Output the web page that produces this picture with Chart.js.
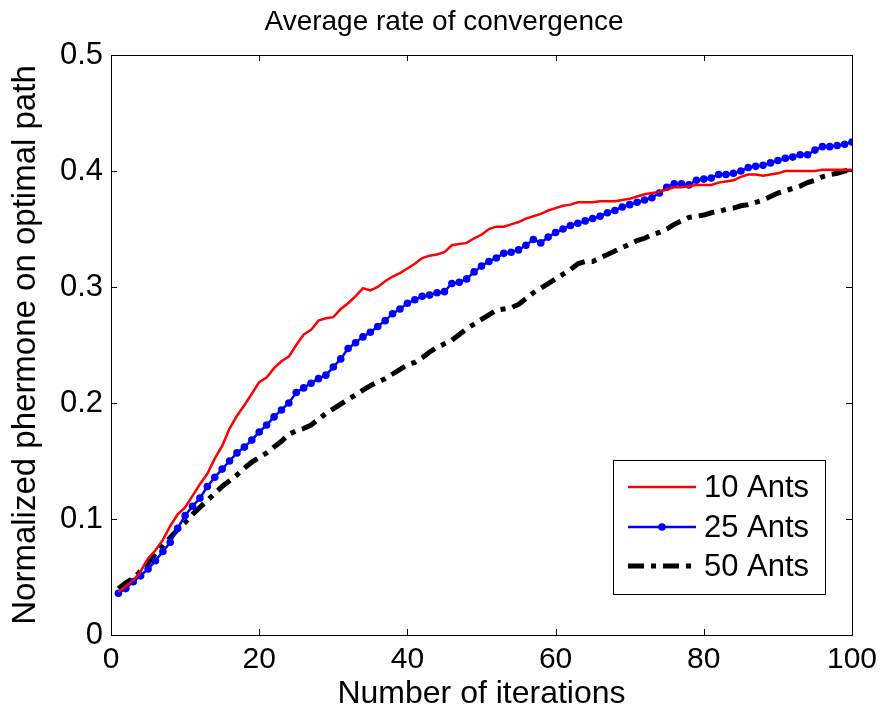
<!DOCTYPE html>
<html>
<head>
<meta charset="utf-8">
<script src="https://cdn.jsdelivr.net/npm/chart.js@4/dist/chart.umd.min.js"></script>
<style>
html,body{margin:0;padding:0;background:#fff;}
#wrap{width:886px;height:717px;}
</style>
</head>
<body>
<div id="wrap"><canvas id="c" width="886" height="717"></canvas></div>
<script>
const iterations = Array.from({length: 100}, (_, i) => i + 1);
const xTicks = [0, 20, 40, 60, 80, 100];
const yTicks = [0, 0.1, 0.2, 0.3, 0.4, 0.5];
const seriesLabels = ["10 Ants", "25 Ants", "50 Ants"];
const chartTitle = "Average rate of convergence";

const ants10 = [
0.037,0.042,0.047,0.055,0.066,0.073,0.082,0.094,0.104,0.110,
0.120,0.130,0.139,0.152,0.163,0.178,0.189,0.198,0.208,0.218,
0.222,0.230,0.236,0.240,0.250,0.259,0.263,0.271,0.273,0.274,
0.281,0.286,0.292,0.299,0.297,0.300,0.305,0.309,0.312,0.316,
0.320,0.325,0.327,0.328,0.330,0.336,0.337,0.338,0.342,0.345,
0.350,0.352,0.352,0.354,0.356,0.359,0.361,0.363,0.366,0.368,
0.370,0.371,0.373,0.373,0.373,0.374,0.374,0.374,0.375,0.376,
0.378,0.380,0.381,0.382,0.384,0.386,0.386,0.387,0.388,0.388,
0.388,0.390,0.391,0.392,0.395,0.397,0.397,0.396,0.397,0.398,
0.400,0.400,0.400,0.400,0.400,0.401,0.401,0.401,0.401,0.401];

const ants25 = [
0.036,0.040,0.046,0.051,0.057,0.064,0.072,0.080,0.092,0.103,
0.111,0.118,0.128,0.136,0.143,0.150,0.157,0.162,0.168,0.175,
0.181,0.188,0.194,0.200,0.209,0.213,0.217,0.221,0.224,0.231,
0.238,0.247,0.252,0.257,0.261,0.266,0.271,0.277,0.281,0.286,
0.289,0.292,0.293,0.295,0.296,0.303,0.304,0.307,0.313,0.318,
0.322,0.325,0.329,0.330,0.332,0.336,0.341,0.338,0.343,0.347,
0.350,0.353,0.355,0.357,0.359,0.361,0.364,0.366,0.369,0.371,
0.373,0.375,0.377,0.381,0.386,0.389,0.389,0.388,0.392,0.393,
0.394,0.397,0.397,0.398,0.400,0.403,0.404,0.405,0.407,0.409,
0.411,0.412,0.414,0.414,0.418,0.421,0.421,0.422,0.423,0.425];

const ants50 = [
0.040,0.045,0.049,0.055,0.062,0.070,0.077,0.084,0.091,0.097,
0.104,0.110,0.116,0.122,0.128,0.133,0.138,0.144,0.149,0.153,
0.157,0.162,0.167,0.173,0.176,0.178,0.181,0.186,0.191,0.195,
0.199,0.203,0.207,0.211,0.215,0.218,0.221,0.225,0.229,0.233,
0.235,0.239,0.244,0.248,0.251,0.254,0.259,0.264,0.268,0.272,
0.276,0.280,0.281,0.282,0.285,0.290,0.295,0.299,0.303,0.307,
0.311,0.315,0.320,0.322,0.322,0.325,0.328,0.331,0.334,0.337,
0.340,0.342,0.345,0.347,0.350,0.354,0.357,0.360,0.361,0.362,
0.364,0.365,0.367,0.368,0.370,0.371,0.373,0.375,0.378,0.381,
0.383,0.385,0.387,0.390,0.392,0.395,0.397,0.398,0.400,0.401];

const FONT = "'Liberation Sans', Arial, Helvetica, sans-serif";

function toXY(vals){ return vals.map((v, i) => ({x: iterations[i], y: v})); }

const boxPlugin = {
  id: 'boxPlugin',
  afterDraw(chart){
    const {ctx, chartArea: a, scales} = chart;
    ctx.save();
    // title (centred on the figure)
    ctx.fillStyle = '#000';
    ctx.font = "28px " + FONT;
    ctx.textAlign = 'center';
    ctx.textBaseline = 'alphabetic';
    ctx.fillText(chartTitle, chart.width / 2 + 1, 30);

    ctx.strokeStyle = '#000';
    ctx.lineWidth = 1;
    ctx.strokeRect(Math.round(a.left)+0.5, Math.round(a.top)+0.5, Math.round(a.right-a.left), Math.round(a.bottom-a.top));
    const tl = 6;
    ctx.beginPath();
    xTicks.forEach(t => {
      const px = Math.round(scales.x.getPixelForValue(t)) + 0.5;
      ctx.moveTo(px, a.bottom); ctx.lineTo(px, a.bottom - tl);
      ctx.moveTo(px, a.top); ctx.lineTo(px, a.top + tl);
    });
    yTicks.forEach(t => {
      const py = Math.round(scales.y.getPixelForValue(t)) + 0.5;
      ctx.moveTo(a.left, py); ctx.lineTo(a.left + tl, py);
      ctx.moveTo(a.right, py); ctx.lineTo(a.right - tl, py);
    });
    ctx.stroke();

    // legend box
    const bw = 212, bh = 134;
    const bx = Math.round(a.right - 27 - bw), by = Math.round(a.bottom - 41 - bh);
    ctx.fillStyle = '#fff';
    ctx.fillRect(bx, by, bw, bh);
    ctx.strokeStyle = '#000';
    ctx.lineWidth = 1;
    ctx.strokeRect(bx + 0.5, by + 0.5, bw, bh);
    const rows = [by + 27, by + 67, by + 106];
    ctx.font = "31px " + FONT;
    ctx.textBaseline = 'middle';
    ctx.textAlign = 'left';
    chart.data.datasets.forEach((ds, i) => {
      const y = rows[i];
      ctx.save();
      ctx.strokeStyle = ds.borderColor;
      ctx.lineWidth = ds.borderWidth;
      ctx.setLineDash(ds.borderDash || []);
      ctx.beginPath();
      ctx.moveTo(bx + 15, y); ctx.lineTo(bx + 83, y);
      ctx.stroke();
      if (ds.pointRadius > 0) {
        ctx.fillStyle = ds.pointBackgroundColor;
        ctx.beginPath();
        ctx.arc(bx + 49, y, ds.pointRadius, 0, Math.PI * 2);
        ctx.fill();
      }
      ctx.restore();
      ctx.fillStyle = '#000';
      ctx.fillText(ds.label, bx + 91, y + 1);
    });
    ctx.restore();
  }
};

new Chart(document.getElementById('c'), {
  type: 'line',
  data: {
    datasets: [
      {label: seriesLabels[0], data: toXY(ants10), borderColor: '#ff0000', backgroundColor: '#ff0000',
       borderWidth: 2.5, pointRadius: 0, tension: 0, fill: false},
      {label: seriesLabels[1], data: toXY(ants25), borderColor: '#0000ff', backgroundColor: '#0000ff',
       pointBackgroundColor: '#0000ff', pointBorderColor: '#0000ff',
       borderWidth: 2.5, pointRadius: 3.8, pointBorderWidth: 0, tension: 0, fill: false},
      {label: seriesLabels[2], data: toXY(ants50), borderColor: '#000000', backgroundColor: '#000000',
       borderWidth: 5, borderDash: [16, 7, 5, 7], pointRadius: 0, tension: 0, fill: false}
    ]
  },
  options: {
    responsive: false,
    animation: false,
    devicePixelRatio: 1,
    layout: {padding: {left: 0, right: 34, top: 55, bottom: 0}},
    plugins: {
      legend: {display: false},
      tooltip: {enabled: false},
      title: {display: false}
    },
    scales: {
      x: {
        type: 'linear', min: 0, max: 100,
        afterBuildTicks: s => { s.ticks = xTicks.map(v => ({value: v})); },
        afterFit: s => { s.height = 82; },
        grid: {display: false, drawTicks: false},
        border: {display: false},
        ticks: {color: '#000', padding: 7, font: {family: FONT, size: 30}, maxRotation: 0},
        title: {display: true, text: 'Number of iterations', color: '#000',
                font: {family: FONT, size: 32}, padding: {top: 0, bottom: 4}}
      },
      y: {
        type: 'linear', min: 0, max: 0.5,
        afterBuildTicks: s => { s.ticks = yTicks.map(v => ({value: v})); },
        afterFit: s => { s.width = 111; },
        grid: {display: false, drawTicks: false},
        border: {display: false},
        ticks: {color: '#000', padding: 8, font: {family: FONT, size: 31},
                callback: v => String(Math.round(v * 10) / 10)},
        title: {display: true, text: 'Normalized phermone on optimal path', color: '#000',
                font: {family: FONT, size: 33}, padding: {top: 6, bottom: 0}}
      }
    }
  },
  plugins: [boxPlugin]
});
</script>
</body>
</html>
